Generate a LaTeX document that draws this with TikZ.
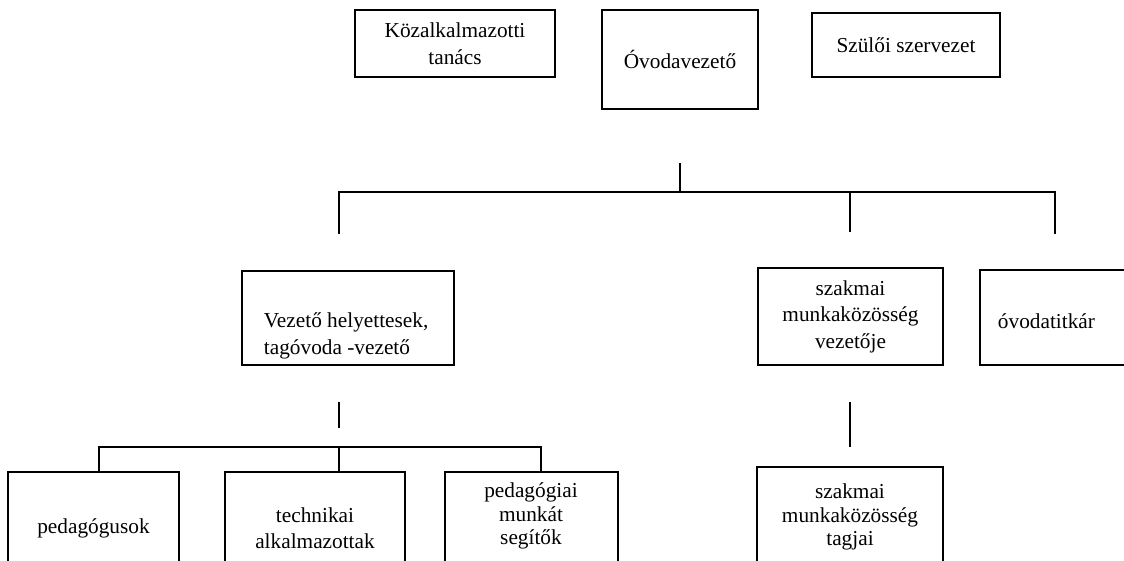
\documentclass[tikz,border=0pt]{standalone}
\usepackage{fontspec}
\setmainfont{Liberation Serif}
\usetikzlibrary{positioning}

\begin{document}
\begin{tikzpicture}[x=1pt,y=-1pt,line width=1.9pt,
   box/.style={draw, rectangle, inner sep=0pt, align=center, font=\fontsize{21.3}{26.5}\selectfont},
   txt/.style={inner sep=0pt, align=center, font=\fontsize{21.3}{26.5}\selectfont},
   tight/.style={txt, font=\fontsize{21.3}{23.5}\selectfont}]
   \useasboundingbox (0,0) rectangle (1124,560);
   \clip (0,0) rectangle (1124,560);

   % top row
   \node[box, minimum width=200, minimum height=67] (kozal) at (455,43.5)  {K\"ozalkalmazotti\\tan\'acs};
   \node[box, minimum width=156, minimum height=99] (ovez)  at (680,59.5)  {\'Ovodavezet\H{o}};
   \node[box, minimum width=188, minimum height=64] (szulo) at (906,45)    {Sz\"ul\H{o}i szervezet};

   % second row
   \node[box, minimum width=212, minimum height=94] (vez)    at (348,318)    {};
   \node[txt, anchor=west, align=left]              (veztxt) at (263,336)    {Vezet\H{o} helyettesek,\\tag\'ovoda -vezet\H{o}};
   \node[box, minimum width=185, minimum height=97] (szvez)  at (850.5,316.5) {szakmai\\munkak\"oz\"oss\'eg\\vezet\H{o}je};
   \node[box, minimum width=160, minimum height=95] (titkar) at (1060,317.5)  {};
   \node[txt, anchor=west]                          (titkartxt) at (997,321.5) {\'ovodatitk\'ar};

   % third row
   \node[box, anchor=north, minimum width=171, minimum height=120] (pedag)  at (93.5,471)  {};
   \node[box, anchor=north, minimum width=180, minimum height=120] (tech)   at (315,471)   {};
   \node[box, anchor=north, minimum width=173, minimum height=120] (segit)  at (531.5,471) {};
   \node[box, anchor=north, minimum width=186, minimum height=120] (tagjai) at (850,466)   {};
   \node[txt]   (pedagtxt)  at (93.5,528)  {pedag\'ogusok};
   \node[txt]   (techtxt)   at (315,528)   {technikai\\alkalmazottak};
   \node[tight] (segittxt)  at (531,516)   {pedag\'ogiai\\munk\'at\\seg\'it\H{o}k};
   \node[tight] (tagjaitxt) at (850,517)   {szakmai\\munkak\"oz\"oss\'eg\\tagjai};

   % connectors
   \coordinate (c0) at (680,163);
   \coordinate (c1) at (680,192);
   \coordinate (l1) at (339,234);
   \coordinate (m1) at (850,232);
   \coordinate (r1) at (1055,234);
   \draw (c0) -- (c1);
   \draw (l1) |- (r1 |- c1) -- (r1);
   \draw (m1) -- (m1 |- c1);

   \coordinate (c2) at (339,402);
   \coordinate (c3) at (339,428);
   \coordinate (d1) at (99,447);
   \coordinate (d2) at (339,447);
   \coordinate (d3) at (541,447);
   \draw (c2) -- (c3);
   \draw (d1 |- pedag.north) -- (d1) -- (d3) -- (d3 |- segit.north);
   \draw (d2) -- (d2 |- tech.north);

   \coordinate (c4) at (850,402);
   \coordinate (c5) at (850,447);
   \draw (c4) -- (c5);
\end{tikzpicture}
\end{document}
